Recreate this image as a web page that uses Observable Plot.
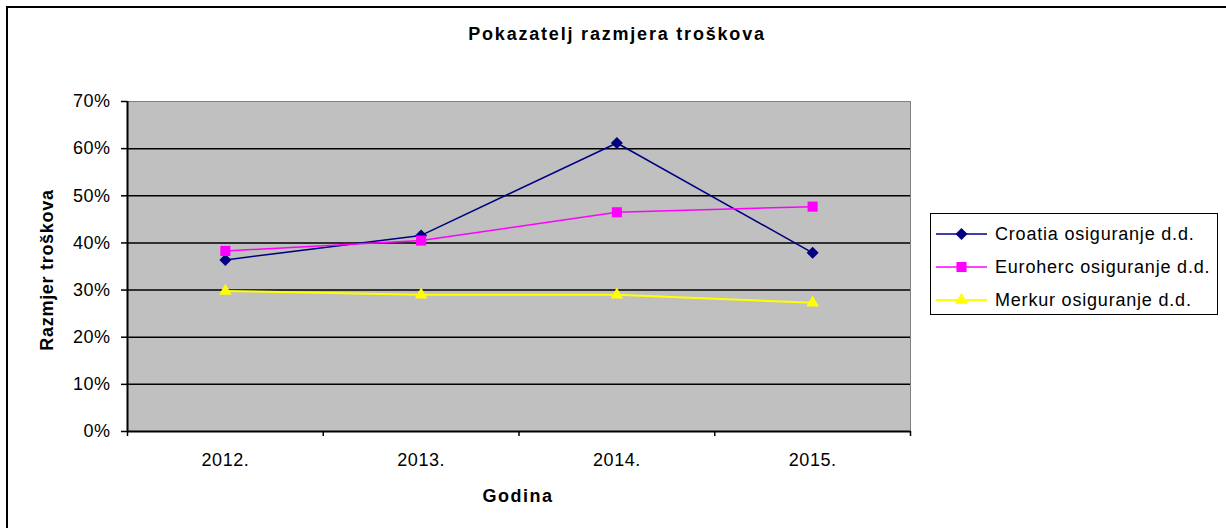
<!DOCTYPE html>
<html>
<head>
<meta charset="utf-8">
<script src="https://cdn.jsdelivr.net/npm/d3@7"></script>
<script src="https://cdn.jsdelivr.net/npm/@observablehq/plot@0.6"></script>
<style>
  body { margin: 0; background: #fff; }
  #wrap { position: relative; width: 1226px; height: 528px; overflow: hidden;
          font-family: "Liberation Sans", Arial, sans-serif; color: #000; }
  #border { position: absolute; left: 6px; top: 6px; width: 1400px; height: 700px;
            border-top: 2px solid #000; border-left: 2px solid #000; box-sizing: border-box; }
  #chart { position: absolute; left: 0; top: 0; }
  #chart svg text { letter-spacing: 0.5px; }
  .lbl { position: absolute; font-size: 18px; line-height: 18px; font-weight: bold; white-space: nowrap; }
  #title { left: 317px; width: 600px; top: 25px; text-align: center; letter-spacing: 1.8px; }
  #xlabel { left: 368px; width: 300px; top: 487px; text-align: center; letter-spacing: 1.5px; }
  #ylabel { left: -103.5px; top: 261px; width: 300px; text-align: center; transform: rotate(-90deg); letter-spacing: 0.7px; }
  #legend { position: absolute; left: 930px; top: 213px; width: 288px; height: 102px;
            border: 1.5px solid #000; box-sizing: border-box; background: #fff; }
  .row { position: absolute; left: 0; height: 20px; }
  .row svg { position: absolute; left: 5px; top: 0; }
  .row span { position: absolute; left: 64px; top: 1px; font-size: 18px; line-height: 18px; letter-spacing: 0.8px; white-space: nowrap; }
</style>
</head>
<body>
<div id="wrap">
  <div id="border"></div>
  <div id="chart"></div>
  <div id="title" class="lbl">Pokazatelj razmjera troškova</div>
  <div id="xlabel" class="lbl">Godina</div>
  <div id="ylabel" class="lbl">Razmjer troškova</div>
  <div id="legend"></div>
</div>
<script>
// ---- data ----
const years = [2012, 2013, 2014, 2015];
const yearLabels = ["2012.", "2013.", "2014.", "2015."];
const seriesNames = ["Croatia osiguranje d.d.", "Euroherc osiguranje d.d.", "Merkur osiguranje d.d."];
const croatia = [0.364, 0.416, 0.612, 0.379];
const euroherc = [0.383, 0.405, 0.465, 0.477];
const merkur = [0.298, 0.290, 0.290, 0.273];
const yTicks = [0, 0.1, 0.2, 0.3, 0.4, 0.5, 0.6, 0.7];
const colors = ["#000080", "#FF00FF", "#FFFF00"];

// ---- build ----
const seriesValues = [croatia, euroherc, merkur];
const symbols = [d3.symbolDiamond2, d3.symbolSquare, d3.symbolTriangle];
const radii = [5.4, 5.7, 4.7];
const widths = [1.5, 1.5, 2];

const boundaries = years.map(y => y - 0.5).concat([years[years.length - 1] + 0.5]);
const labelOf = new Map(years.map((y, i) => [y, yearLabels[i]]));

const marks = [
  Plot.frame({fill: "#c0c0c0", stroke: "#808080", strokeWidth: 1}),
  Plot.gridY(yTicks.filter(t => t > 0 && t < yTicks[yTicks.length - 1]), {stroke: "#000", strokeOpacity: 1, strokeWidth: 1.5}),
  Plot.ruleY([yTicks[0]], {stroke: "#000", strokeWidth: 2}),
  Plot.ruleX([boundaries[0]], {stroke: "#000", strokeWidth: 2}),
  Plot.axisY({ticks: yTicks, tickFormat: d3.format(".0%"), tickSize: 6, tickPadding: 11, stroke: "#000", strokeWidth: 1.5, fontSize: 18, label: null}),
  Plot.axisX({ticks: boundaries, tickSize: 5, tickFormat: () => "", stroke: "#000", strokeWidth: 1.5, label: null}),
  Plot.axisX({ticks: years, tickSize: 0, tickPadding: 22, tickFormat: d => labelOf.get(d), fontSize: 18, label: null})
];

seriesValues.forEach((vals, k) => {
  const rows = years.map((y, i) => ({year: y, value: vals[i]}));
  marks.push(Plot.line(rows, {x: "year", y: "value", stroke: colors[k], strokeWidth: widths[k]}));
  marks.push(Plot.dot(rows, {x: "year", y: "value", symbol: symbols[k], fill: colors[k], stroke: "none", r: radii[k]}));
});

const chart = Plot.plot({
  width: 1226,
  height: 528,
  marginLeft: 127,
  marginRight: 316,
  marginTop: 101,
  marginBottom: 97,
  style: {background: "transparent", fontSize: "18px", fontFamily: "'Liberation Sans', Arial, sans-serif", color: "#000"},
  x: {type: "linear", domain: [boundaries[0], boundaries[boundaries.length - 1]], axis: null, label: null},
  y: {domain: [yTicks[0], yTicks[yTicks.length - 1]], axis: null, label: null},
  marks
});
document.getElementById("chart").appendChild(chart);

// ---- legend ----
const legend = document.getElementById("legend");
seriesNames.forEach((name, k) => {
  const row = document.createElement("div");
  row.className = "row";
  row.style.top = (10 + k * 33) + "px";
  const ns = "http://www.w3.org/2000/svg";
  const svg = document.createElementNS(ns, "svg");
  svg.setAttribute("width", 56); svg.setAttribute("height", 20);
  const line = document.createElementNS(ns, "line");
  line.setAttribute("x1", 0); line.setAttribute("x2", 51);
  line.setAttribute("y1", 10); line.setAttribute("y2", 10);
  line.setAttribute("stroke", colors[k]); line.setAttribute("stroke-width", widths[k]);
  svg.appendChild(line);
  const p = document.createElementNS(ns, "path");
  p.setAttribute("d", d3.symbol(symbols[k], radii[k] * radii[k] * Math.PI)());
  p.setAttribute("transform", "translate(25.5,10)");
  p.setAttribute("fill", colors[k]);
  svg.appendChild(p);
  row.appendChild(svg);
  const span = document.createElement("span");
  span.textContent = name;
  row.appendChild(span);
  legend.appendChild(row);
});
</script>
</body>
</html>
